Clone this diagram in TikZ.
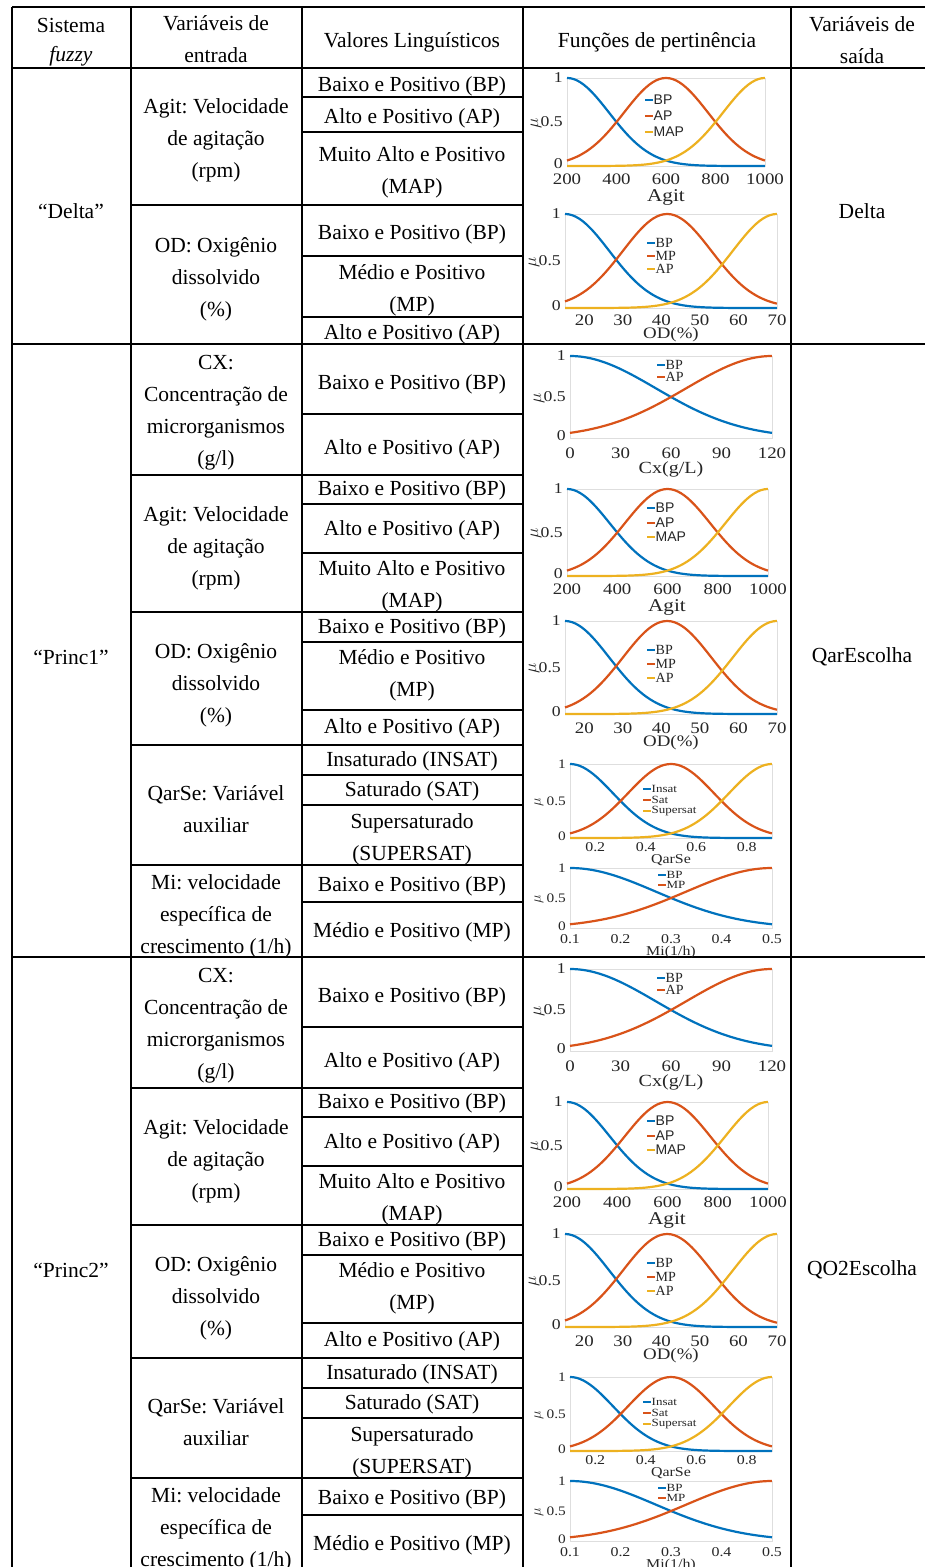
\documentclass[tikz,border=0pt]{standalone}
\usepackage{fontspec}
\setmainfont{Liberation Serif}
\newfontfamily\legsans{Liberation Sans}
\frenchspacing
\definecolor{mblue}{RGB}{0,114,189}
\definecolor{morange}{RGB}{217,83,25}
\definecolor{myellow}{RGB}{237,177,32}
\definecolor{axgrey}{RGB}{38,38,38}

\tikzset{
  grid/.style={line width=1.8pt, black},
  cell/.style={font=\fontsize{21.5}{32}\selectfont, align=center, inner sep=0pt},
  axbox/.style={draw=black!13, line width=0.7pt},
  mfline/.style={line width=2.2pt},
  legline/.style={line width=1.8pt},
  ytick/.style={anchor=east, inner sep=0pt, text=axgrey},
  xtick/.style={inner sep=0pt, text=axgrey},
  mulab/.style={rotate=90, inner sep=0pt, text=axgrey},
}
% axis text is set a little wider than tall
\newcommand\wide[1]{\scalebox{1.18}[1]{#1}}
\newcommand\bigtick{\fontsize{16}{16}\selectfont}
\newcommand\smalltick{\fontsize{13.5}{13.5}\selectfont}

% axes frame with the three membership ticks and the rotated mu label
% #1 left  #2 right  #3 y of value 0  #4 y of value 1  #5 font size  #6 mu size
\newcommand\mfbox[6]{%
  \draw[axbox] (#1,#4) rectangle (#2,#3);
  \node[ytick,font=\fontsize{#5}{#5}\selectfont] at (#1-4,#4) {\wide{1}};
  \node[ytick,font=\fontsize{#5}{#5}\selectfont] at (#1-4,{(#3+#4)/2}) {\wide{0.5}};
  \node[ytick,font=\fontsize{#5}{#5}\selectfont] at (#1-4,#3-2) {\wide{0}};
  \node[mulab,font=\fontsize{#6}{#6}\selectfont] at (#1-31,{(#3+#4)/2+1}) {$\mu$};
}
% one Gaussian membership curve on a normalised abscissa
% #1 left  #2 right  #3 y0  #4 y1  #5 centre  #6 sigma  #7 colour
\newcommand\mfcurve[7]{%
  \draw[mfline,#7] plot[domain=0:1,samples=61,smooth,variable=\t]
    ({#1+\t*(#2-#1)},{#3-(#3-#4)*exp(-((\t-#5)^2)/(2*(#6)^2))});
}
\newcommand\threeset[6]{%
  \mfcurve{#1}{#2}{#3}{#4}{0}{#6}{mblue}
  \mfcurve{#1}{#2}{#3}{#4}{#5}{#6}{morange}
  \mfcurve{#1}{#2}{#3}{#4}{1}{#6}{myellow}
}
\newcommand\twoset[5]{%
  \mfcurve{#1}{#2}{#3}{#4}{0}{#5}{mblue}
  \mfcurve{#1}{#2}{#3}{#4}{1}{#5}{morange}
}
% legend entry: #1 x  #2 y  #3 colour  #4 text  #5 font
\newcommand\legitem[5]{%
  \draw[legline,#3] (#1,#2) -- ++(8,0);
  \node[anchor=west,inner sep=0pt,font=#5,text=axgrey] at (#1+8.5,#2) {#4};
}
\newcommand\legserif{\fontsize{14}{14}\selectfont}
\newcommand\legsmall{\fontsize{11}{11}\selectfont}
\newcommand\legss{\legsans\fontsize{14}{14}\selectfont}

% rows and plots shared by the "Princ1" and "Princ2" systems
\newcommand\princblock[2]{%
  \foreach \yy in {475,612,745,865} \draw[grid] (131,\yy) -- (523,\yy);
  \foreach \yy in {414,504,553,642,710,775,805,902} \draw[grid] (302,\yy) -- (523,\yy);
  \node[cell] at (71,657) {#1};
  \node[cell] at (862,657) {#2};
  % input variables
  \node[cell] at (216,413) {CX:\\Concentração de\\microrganismos\\(g/l)};
  \node[cell] at (216,548) {Agit: Velocidade\\de agitação\\(rpm)};
  \node[cell] at (216,685) {OD: Oxigênio\\dissolvido\\(\%)};
  \node[cell] at (216,809) {QarSe: Variável\\auxiliar};
  \node[cell] at (216,916) {Mi: velocidade\\específica de\\crescimento (1/h)};
  % linguistic values
  \node[cell] at (412,384) {Baixo e Positivo (BP)};
  \node[cell] at (412,449) {Alto e Positivo (AP)};
  \node[cell] at (412,490) {Baixo e Positivo (BP)};
  \node[cell] at (412,530) {Alto e Positivo (AP)};
  \node[cell] at (412,586) {Muito Alto e Positivo\\(MAP)};
  \node[cell] at (412,628) {Baixo e Positivo (BP)};
  \node[cell] at (412,675) {Médio e Positivo\\(MP)};
  \node[cell] at (412,728) {Alto e Positivo (AP)};
  \node[cell] at (412,761) {Insaturado (INSAT)};
  \node[cell] at (412,791) {Saturado (SAT)};
  \node[cell] at (412,839) {Supersaturado\\(SUPERSAT)};
  \node[cell] at (412,886) {Baixo e Positivo (BP)};
  \node[cell] at (412,932) {Médio e Positivo (MP)};
  % Cx
  \mfbox{570}{772}{438}{356}{15}{19}
  \twoset{570}{772}{438}{356}{0.4247}
  \foreach \v in {0,30,60,90,120}
    \node[xtick,font=\bigtick] at ({570+\v/120*202},453) {\wide{\v}};
  \node[xtick,font=\fontsize{17}{17}\selectfont] at (671,469) {\wide{Cx(g/L)}};
  \legitem{657}{365}{mblue}{BP}{\legserif}
  \legitem{657}{377}{morange}{AP}{\legserif}
  % Agit
  \mfbox{567}{768}{576}{489}{15}{19}
  \threeset{567}{768}{576}{489}{0.5}{0.2123}
  \foreach \i/\l in {0/200,1/400,2/600,3/800,4/1000}
    \node[xtick,font=\bigtick] at ({567+\i*201/4},589) {\wide{\l}};
  \node[xtick,font=\fontsize{18}{18}\selectfont] at (667,607) {\wide{Agit}};
  \legitem{647}{508}{mblue}{BP}{\legss}
  \legitem{647}{523}{morange}{AP}{\legss}
  \legitem{647}{537}{myellow}{MAP}{\legss}
  % OD
  \mfbox{565}{777}{714}{621}{15}{19}
  \threeset{565}{777}{714}{621}{0.4818}{0.209}
  \foreach \v in {20,30,40,50,60,70}
    \node[xtick,font=\bigtick] at ({565+(\v-15)/55*212},728) {\wide{\v}};
  \node[xtick,font=\fontsize{16}{16}\selectfont] at (671,743) {\wide{OD(\%)}};
  \legitem{647}{650}{mblue}{BP}{\legserif}
  \legitem{647}{664}{morange}{MP}{\legserif}
  \legitem{647}{678}{myellow}{AP}{\legserif}
  % QarSe
  \mfbox{570}{772}{838}{764}{13}{15}
  \threeset{570}{772}{838}{764}{0.5}{0.2123}
  \foreach \i/\l in {1/0.2,3/0.4,5/0.6,7/0.8}
    \node[xtick,font=\smalltick] at ({570+\i*202/8},847) {\wide{\l}};
  \node[xtick,font=\smalltick] at (671,860) {\wide{QarSe}};
  \legitem{643}{789}{mblue}{\wide{Insat}}{\legsmall}
  \legitem{643}{800}{morange}{\wide{Sat}}{\legsmall}
  \legitem{643}{811}{myellow}{\wide{Supersat}}{\legsmall}
  % Mi
  \mfbox{570}{772}{928}{868}{13}{15}
  \twoset{570}{772}{928}{868}{0.4247}
  \foreach \i/\l in {0/0.1,1/0.2,2/0.3,3/0.4,4/0.5}
    \node[xtick,font=\smalltick] at ({570+\i*202/4},939) {\wide{\l}};
  \node[xtick,font=\smalltick] at (671,952) {\wide{Mi(1/h)}};
  \legitem{658}{875}{mblue}{\wide{BP}}{\legsmall}
  \legitem{658}{885}{morange}{\wide{MP}}{\legsmall}
}

\begin{document}
\begin{tikzpicture}[x=1pt,y=-1pt]
\useasboundingbox (0,0) rectangle (925,1567);
\fill[white] (0,0) rectangle (925,1567);
\begin{scope}
\clip (0,0) rectangle (925,1567);

% outer grid
\foreach \xx in {12,131,302,523,791} \draw[grid] (\xx,7) -- (\xx,1580);
\foreach \yy in {7,68,344,957} \draw[grid] (12,\yy) -- (940,\yy);

% header
\node[cell] (h1a) at (71,25) {Sistema};
\node[cell] (h1b) at (71,56) {\textit{fuzzy}};
\node[cell] (h2) at (216,39) {Variáveis de\\entrada};
\node[cell] (h3) at (412,42) {Valores Linguísticos};
\node[cell] (h4) at (657,42) {Funções de pertinência};
\node[cell] (h5) at (862,40) {Variáveis de\\saída};

% "Delta" system
\draw[grid] (131,205) -- (523,205);
\foreach \yy in {97,132,256,317} \draw[grid] (302,\yy) -- (523,\yy);
\node[cell] (delta) at (71,211) {“Delta”};
\node[cell] (deltaout) at (862,211) {Delta};
\node[cell] (dagit) at (216,140) {Agit: Velocidade\\de agitação\\(rpm)};
\node[cell] (dod) at (216,279) {OD: Oxigênio\\dissolvido\\(\%)};
\node[cell] (d1) at (412,86) {Baixo e Positivo (BP)};
\node[cell] (d2) at (412,118) {Alto e Positivo (AP)};
\node[cell] (d3) at (412,172) {Muito Alto e Positivo\\(MAP)};
\node[cell] (d4) at (412,234) {Baixo e Positivo (BP)};
\node[cell] (d5) at (412,290) {Médio e Positivo\\(MP)};
\node[cell] (d6) at (412,334) {Alto e Positivo (AP)};

\mfbox{567}{765}{166}{78}{15}{19}
\threeset{567}{765}{166}{78}{0.5}{0.2123}
\foreach \i/\l in {0/200,1/400,2/600,3/800,4/1000}
  \node[xtick,font=\bigtick] at ({567+\i*198/4},179) {\wide{\l}};
\node[xtick,font=\fontsize{18}{18}\selectfont] at (666,197) {\wide{Agit}};
\legitem{645}{100}{mblue}{BP}{\legss}
\legitem{645}{116}{morange}{AP}{\legss}
\legitem{645}{132}{myellow}{MAP}{\legss}

\mfbox{565}{777}{308}{214}{15}{19}
\threeset{565}{777}{308}{214}{0.4818}{0.209}
\foreach \v in {20,30,40,50,60,70}
  \node[xtick,font=\bigtick] at ({565+(\v-15)/55*212},320) {\wide{\v}};
\node[xtick,font=\fontsize{16}{16}\selectfont] at (671,335) {\wide{OD(\%)}};
\legitem{647}{243}{mblue}{BP}{\legserif}
\legitem{647}{256}{morange}{MP}{\legserif}
\legitem{647}{269}{myellow}{AP}{\legserif}

% "Princ1" and "Princ2" systems
\princblock{“Princ1”}{QarEscolha}
\begin{scope}[yshift=-613pt]
\princblock{“Princ2”}{QO2Escolha}
\end{scope}
\end{scope}
\end{tikzpicture}
\end{document}
